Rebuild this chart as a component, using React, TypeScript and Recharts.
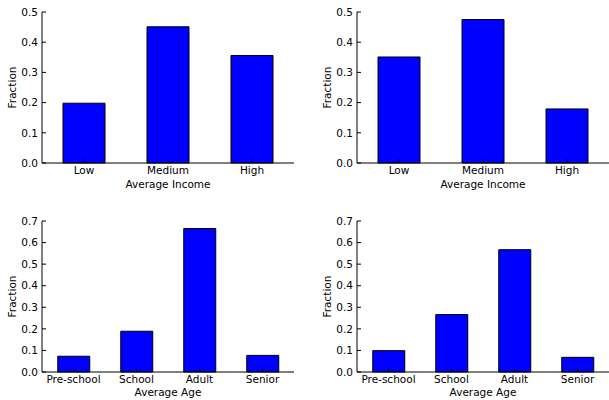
import React from 'react';
import { BarChart, Bar, XAxis, YAxis } from 'recharts';

const incomeCategories = ['Low', 'Medium', 'High'];
const incomeLeft = [0.198, 0.451, 0.356];
const incomeRight = [0.351, 0.475, 0.179];

const ageCategories = ['Pre-school', 'School', 'Adult', 'Senior'];
const ageLeft = [0.073, 0.189, 0.665, 0.077];
const ageRight = [0.099, 0.266, 0.567, 0.068];

const incomeTicks = [0, 0.1, 0.2, 0.3, 0.4, 0.5];
const ageTicks = [0, 0.1, 0.2, 0.3, 0.4, 0.5, 0.6, 0.7];

const FONT = 10.5;
const tickStyle = { fill: '#000', fontSize: FONT };
const noLabel = () => '';

interface PanelProps {
  categories: string[];
  values: number[];
  ticks: number[];
  xLabel: string;
  left: number;
  top: number;
  marginTop: number;
  xAxisHeight: number;
  yAxisWidth: number;
  labelOffset: number;
}

const Panel: React.FC<PanelProps> = ({
  categories, values, ticks, xLabel, left, top, marginTop, xAxisHeight, yAxisWidth, labelOffset,
}) => {
  const data = categories.map((name, i) => ({ name, value: values[i] }));
  const yMax = ticks[ticks.length - 1];
  return (
    <div style={{ position: 'absolute', left, top }}>
      <BarChart
        width={305}
        height={200}
        data={data}
        margin={{ top: marginTop, right: 305 - yAxisWidth - 252, bottom: 0, left: 0 }}
        barCategoryGap="25%"
      >
        <XAxis
          dataKey="name"
          interval={0}
          height={xAxisHeight}
          tickSize={-4}
          tickMargin={8}
          stroke="#000"
          tick={tickStyle}
          label={{ value: xLabel, position: 'insideBottom', offset: labelOffset, fill: '#000', fontSize: FONT }}
        />
        <XAxis
          xAxisId="top"
          dataKey="name"
          orientation="top"
          interval={0}
          height={0}
          tickSize={-4}
          stroke="#000"
          tickFormatter={noLabel}
        />
        <YAxis
          domain={[0, yMax]}
          ticks={ticks}
          interval={0}
          width={yAxisWidth}
          tickSize={-4}
          tickMargin={8}
          stroke="#000"
          tick={tickStyle}
          tickFormatter={(v: number) => v.toFixed(1)}
          label={{ value: 'Fraction', angle: -90, position: 'center', dx: 12 - yAxisWidth / 2 + (yAxisWidth - 42), fill: '#000', fontSize: FONT }}
        />
        <YAxis
          yAxisId="right"
          orientation="right"
          domain={[0, yMax]}
          ticks={ticks}
          interval={0}
          width={0}
          tickSize={-4}
          stroke="#000"
          tickFormatter={noLabel}
        />
        <Bar dataKey="value" fill="#0000ff" stroke="#000" strokeWidth={1} isAnimationActive={false} />
        <Bar xAxisId="top" yAxisId="right" dataKey="value" fill="none" stroke="none" isAnimationActive={false} />
      </BarChart>
    </div>
  );
};

export default function App() {
  return (
    <div
      style={{
        position: 'absolute',
        left: 0,
        top: 0,
        width: 609,
        height: 400,
        overflow: 'hidden',
        background: '#fff',
        fontFamily: '"DejaVu Sans", sans-serif',
      }}
    >
      <Panel categories={incomeCategories} values={incomeLeft} ticks={incomeTicks} xLabel="Average Income"
        left={0} top={0} marginTop={12} xAxisHeight={37} yAxisWidth={42} labelOffset={12} />
      <Panel categories={incomeCategories} values={incomeRight} ticks={incomeTicks} xLabel="Average Income"
        left={305} top={0} marginTop={12} xAxisHeight={37} yAxisWidth={52} labelOffset={12} />
      <Panel categories={ageCategories} values={ageLeft} ticks={ageTicks} xLabel="Average Age"
        left={0} top={200} marginTop={21} xAxisHeight={28} yAxisWidth={42} labelOffset={4} />
      <Panel categories={ageCategories} values={ageRight} ticks={ageTicks} xLabel="Average Age"
        left={305} top={200} marginTop={21} xAxisHeight={28} yAxisWidth={52} labelOffset={4} />
    </div>
  );
}
